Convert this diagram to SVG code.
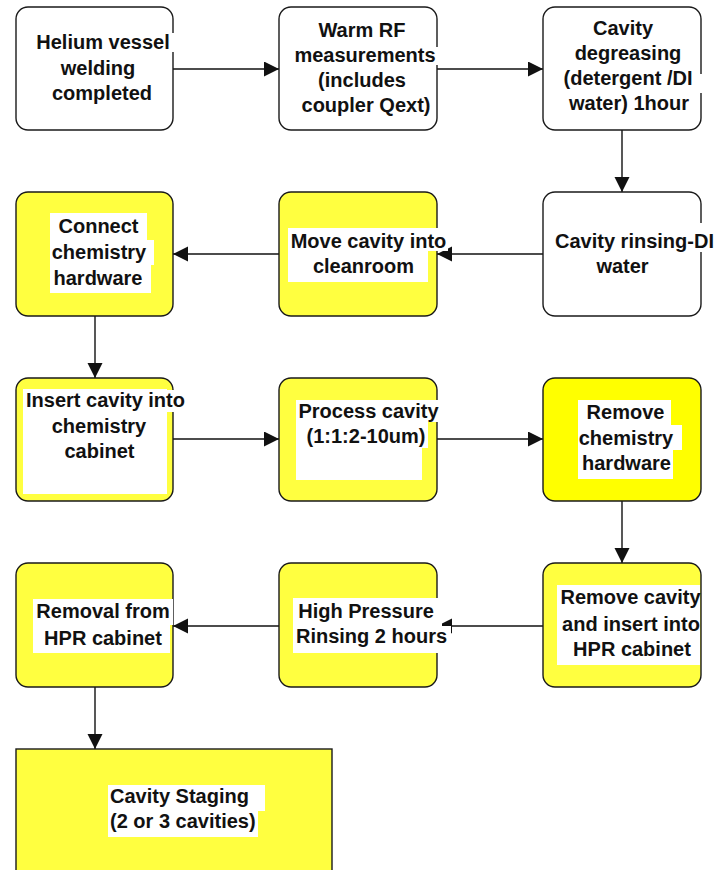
<svg xmlns="http://www.w3.org/2000/svg" width="719" height="870" viewBox="0 0 719 870">
  <style>
    .box { stroke: #1a1a1a; stroke-width: 1.4; }
    .w { fill: #ffffff; }
    .y { fill: #ffff40; }
    .y2 { fill: #ffff00; }
    .bg { fill: #ffffff; }
    .conn { stroke: #111111; stroke-width: 1.4; fill: none; marker-end: url(#arrow); }
    text { font-family: "Liberation Sans", Arial, sans-serif; font-weight: bold; font-size: 20px; fill: #111111; text-anchor: middle; }
    text.left { text-anchor: start; }
  </style>
  <defs>
    <marker id="arrow" markerUnits="userSpaceOnUse" markerWidth="16" markerHeight="16" refX="15" refY="7.5" orient="auto">
      <path d="M0,0 L15,7.5 L0,15 z" fill="#111111"/>
    </marker>
  </defs>

  <rect width="719" height="870" fill="#ffffff"/>

  <!-- connectors -->
  <g id="connectors">
    <path class="conn" d="M173,69 H279"/>
    <path class="conn" d="M437,69 H543"/>
    <path class="conn" d="M622,130 V192"/>
    <path class="conn" d="M543,254 H437"/>
    <path class="conn" d="M279,254 H173"/>
    <path class="conn" d="M95,316 V378"/>
    <path class="conn" d="M173,439 H279"/>
    <path class="conn" d="M437,439 H543"/>
    <path class="conn" d="M622,501 V563"/>
    <path class="conn" d="M543,626 H437"/>
    <path class="conn" d="M279,626 H173"/>
    <path class="conn" d="M95,687 V749"/>
  </g>

  <!-- row 1 -->
  <g id="helium-welding">
    <rect class="box w" x="16" y="7" width="157" height="123" rx="12"/>
    <rect class="bg" x="33" y="33" width="143" height="19"/>
    <text x="103" y="49">Helium vessel</text>
    <text x="98" y="74.5">welding</text>
    <text x="102" y="100">completed</text>
  </g>
  <g id="warm-rf">
    <rect class="box w" x="279" y="7" width="158" height="123" rx="12"/>
    <rect class="bg" x="292" y="47" width="148" height="18"/>
    <text x="362" y="37">Warm RF</text>
    <text x="365" y="62">measurements</text>
    <text x="362" y="87">(includes</text>
    <text x="366" y="112">coupler Qext)</text>
  </g>
  <g id="degreasing">
    <rect class="box w" x="543" y="7" width="158" height="123" rx="12"/>
    <rect class="bg" x="562" y="74" width="142" height="19"/>
    <text x="623" y="35">Cavity</text>
    <text x="628" y="60">degreasing</text>
    <text x="628" y="85">(detergent /DI</text>
    <text x="629" y="110">water) 1hour</text>
  </g>

  <!-- row 2 -->
  <g id="rinsing">
    <rect class="box w" x="543" y="192" width="158" height="124" rx="12"/>
    <rect class="bg" x="552" y="223" width="166" height="29"/>
    <text x="634.5" y="248">Cavity rinsing-DI</text>
    <text x="622.5" y="273">water</text>
  </g>
  <g id="move-cleanroom">
    <rect class="box y" x="279" y="192" width="158" height="124" rx="12"/>
    <rect class="bg" x="288" y="228" width="160" height="23"/>
    <rect class="bg" x="288" y="251" width="140" height="31"/>
    <text x="368.5" y="248">Move cavity into</text>
    <text x="363.5" y="273">cleanroom</text>
  </g>
  <g id="connect-hardware">
    <rect class="box y" x="16" y="192" width="157" height="124" rx="12"/>
    <rect class="bg" x="50" y="213" width="97" height="27"/>
    <rect class="bg" x="50" y="240" width="104" height="25"/>
    <rect class="bg" x="50" y="265" width="101" height="28"/>
    <text x="98.5" y="233">Connect</text>
    <text x="99" y="259">chemistry</text>
    <text x="98" y="285">hardware</text>
  </g>

  <!-- row 3 -->
  <g id="insert-cabinet">
    <rect class="box y" x="16" y="378" width="157" height="123" rx="12"/>
    <rect class="bg" x="23" y="389" width="144" height="105"/>
    <rect class="bg" x="160" y="390" width="28" height="22"/>
    <text x="105.5" y="407">Insert cavity into</text>
    <text x="99" y="433">chemistry</text>
    <text x="99.5" y="458">cabinet</text>
  </g>
  <g id="process-cavity">
    <rect class="box y" x="279" y="378" width="158" height="123" rx="12"/>
    <rect class="bg" x="296" y="400" width="126" height="80"/>
    <rect class="bg" x="296" y="400" width="145" height="22"/>
    <rect class="bg" x="296" y="422" width="132" height="26"/>
    <text x="368.5" y="418">Process cavity</text>
    <text x="366" y="443">(1:1:2-10um)</text>
  </g>
  <g id="remove-hardware">
    <rect class="box y2" x="543" y="378" width="158" height="123" rx="12"/>
    <rect class="bg" x="578" y="400" width="93" height="25"/>
    <rect class="bg" x="578" y="425" width="104" height="25"/>
    <rect class="bg" x="578" y="450" width="95" height="29"/>
    <text x="625.5" y="419">Remove</text>
    <text x="626" y="445">chemistry</text>
    <text x="626.5" y="470">hardware</text>
  </g>

  <!-- row 4 -->
  <g id="remove-insert-hpr">
    <rect class="box y" x="543" y="563" width="158" height="124" rx="12"/>
    <rect class="bg" x="557" y="585" width="143" height="80"/>
    <text x="630.5" y="604">Remove cavity</text>
    <text x="631" y="631">and insert into</text>
    <text x="632" y="656">HPR cabinet</text>
  </g>
  <g id="high-pressure-rinsing">
    <rect class="box y" x="279" y="563" width="158" height="124" rx="12"/>
    <rect class="bg" x="293" y="598" width="149" height="30"/>
    <rect class="bg" x="293" y="626" width="158" height="27"/>
    <text x="366" y="618">High Pressure</text>
    <text x="371.5" y="643">Rinsing 2 hours</text>
  </g>
  <g id="removal-hpr">
    <rect class="box y" x="16" y="563" width="157" height="124" rx="12"/>
    <rect class="bg" x="33" y="599" width="140" height="26"/>
    <rect class="bg" x="33" y="625" width="137" height="28"/>
    <text x="103" y="618">Removal from</text>
    <text x="103" y="645">HPR cabinet</text>
  </g>

  <!-- row 5 -->
  <g id="cavity-staging">
    <rect class="box y" x="16" y="749" width="316" height="140"/>
    <rect class="bg" x="108" y="785" width="157" height="26"/>
    <rect class="bg" x="108" y="811" width="150" height="26"/>
    <text class="left" x="110" y="803">Cavity Staging</text>
    <text class="left" x="110" y="828">(2 or 3 cavities)</text>
  </g>
</svg>
